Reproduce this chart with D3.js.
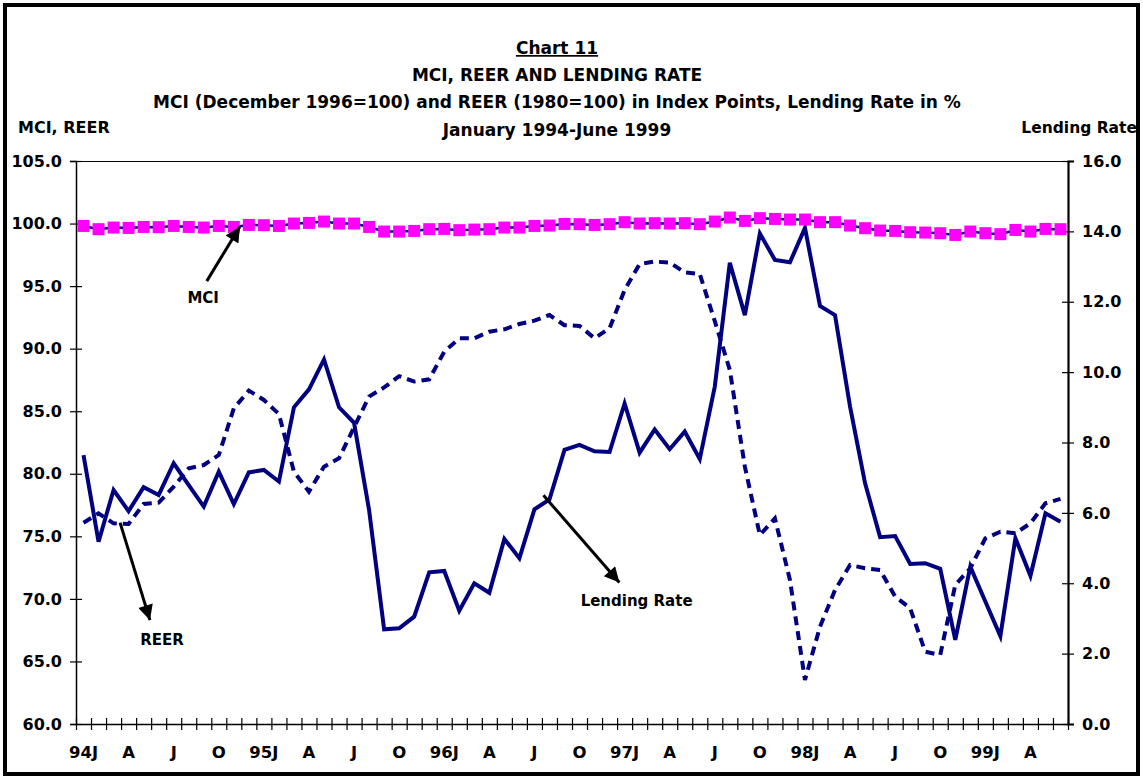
<!DOCTYPE html>
<html>
<head>
<meta charset="utf-8">
<script src="https://cdn.jsdelivr.net/npm/d3@7"></script>
<style>
  html, body { margin: 0; padding: 0; background: #fff; }
  svg { display: block; }
  text { font-family: "DejaVu Sans", sans-serif; font-weight: bold; fill: #000; }
</style>
</head>
<body>
<svg id="chart" width="1143" height="779"></svg>
<script>
// ---------------- data ----------------
const months = d3.range(66); // Jan 1994 .. Jun 1999
const xTickLabels = ["94J","A","J","O","95J","A","J","O","96J","A","J","O",
                     "97J","A","J","O","98J","A","J","O","99J","A"];
const leftTicks = [60,65,70,75,80,85,90,95,100,105];
const rightTicks = [0,2,4,6,8,10,12,14,16];

const mci = [99.81,99.55,99.68,99.65,99.73,99.71,99.81,99.73,99.68,99.81,99.73,99.89,
             99.87,99.81,100.0,100.05,100.16,100.0,100.0,99.73,99.36,99.36,99.41,99.55,
             99.57,99.47,99.52,99.55,99.68,99.68,99.81,99.84,99.97,99.95,99.89,99.95,
             100.11,100.0,100.03,100.0,100.03,99.95,100.16,100.48,100.21,100.43,100.37,100.32,
             100.32,100.11,100.11,99.84,99.63,99.44,99.41,99.31,99.28,99.23,99.09,99.36,
             99.23,99.15,99.49,99.36,99.57,99.55];

const reer = [76.09,76.84,76.04,75.99,77.59,77.69,78.97,80.44,80.70,81.50,85.23,86.65,
              85.90,84.78,80.17,78.57,80.57,81.24,83.72,86.17,86.90,87.80,87.37,87.55,
              89.76,90.83,90.83,91.36,91.55,91.97,92.24,92.69,91.87,91.82,90.83,91.63,
              94.69,96.77,96.96,96.88,96.10,95.97,92.20,88.30,80.57,75.10,76.44,71.51,
              63.52,67.78,70.71,72.71,72.45,72.31,70.18,69.25,65.78,65.52,71.11,72.45,
              74.84,75.37,75.24,76.04,77.64,78.00];

const lending = [7.64,5.18,6.65,6.05,6.73,6.51,7.41,6.79,6.18,7.17,6.25,7.15,
                 7.22,6.89,9.00,9.51,10.36,9.00,8.56,6.08,2.69,2.72,3.05,4.31,
                 4.35,3.22,4.00,3.73,5.26,4.71,6.10,6.38,7.79,7.93,7.75,7.73,
                 9.11,7.71,8.37,7.81,8.31,7.53,9.59,13.11,11.62,13.94,13.19,13.12,
                 14.10,11.88,11.62,9.02,6.84,5.31,5.34,4.55,4.57,4.41,2.39,4.47,
                 3.48,2.50,5.28,4.21,5.99,5.75];

// annotations positioned in data terms (month index, value on given axis)
const annotations = [
  {label:"MCI",          axis:"L", tail:[8.2, 95.4],  tip:[10.4, 99.75], text:[7.96, 94.1]},
  {label:"REER",         axis:"L", tail:[2.43, 76.1], tip:[4.42, 68.3],  text:[5.22, 66.8]},
  {label:"Lending Rate", axis:"R", tail:[30.6, 6.5],  tip:[35.65, 4.02], text:[36.8, 3.52]}
];

const titleLines = ["Chart 11",
                    "MCI, REER AND LENDING RATE",
                    "MCI (December 1996=100) and REER (1980=100) in Index Points, Lending Rate in %",
                    "January 1994-June 1999"];

// ---------------- layout ----------------
const W = 1143, H = 779;
const plot = {left: 76, right: 1068, top: 161, bottom: 724};
const svg = d3.select("#chart");
const navy = "#000080";

const xB = d3.scaleLinear().domain([0, months.length]).range([plot.left, plot.right]);
const xC = i => xB(i + 0.5);
const yL = d3.scaleLinear().domain([60, 105]).range([plot.bottom, plot.top]);
const yR = d3.scaleLinear().domain([0, 16]).range([plot.bottom, plot.top]);

// outer frame
svg.append("rect").attr("x", 5).attr("y", 5).attr("width", W - 10).attr("height", H - 10)
   .attr("fill", "none").attr("stroke", "#000").attr("stroke-width", 4);

// titles
const tg = svg.append("g").attr("text-anchor", "middle");
const tY = [54, 81, 108, 136];
titleLines.forEach((t, k) => {
  tg.append("text").attr("x", 557).attr("y", tY[k]).attr("font-size", 17)
    .attr("text-decoration", k === 0 ? "underline" : null).text(t);
});
svg.append("text").attr("x", 18).attr("y", 133).attr("font-size", 16).text("MCI, REER");
svg.append("text").attr("x", 1137).attr("y", 133).attr("font-size", 15.5)
   .attr("text-anchor", "end").text("Lending Rate");

// top border of plot
svg.append("line").attr("x1", plot.left).attr("x2", plot.right)
   .attr("y1", plot.top + 0.5).attr("y2", plot.top + 0.5)
   .attr("stroke", "#000").attr("stroke-width", 1);

function styleAxis(g, w) {
  g.select(".domain").attr("stroke", "#000").attr("stroke-width", w);
  g.selectAll(".tick line").attr("stroke", "#000").attr("stroke-width", 1.2);
  g.selectAll("text").attr("font-size", 16).attr("font-family", null).attr("fill", "#000");
}

// left axis (outer ticks + labels) and inner ticks
const gL = svg.append("g").attr("transform", `translate(${plot.left},0)`)
  .call(d3.axisLeft(yL).tickValues(leftTicks).tickFormat(d => d.toFixed(1)).tickSize(6).tickPadding(8));
styleAxis(gL, 1.5);
svg.append("g").attr("transform", `translate(${plot.left},0)`)
  .call(d3.axisLeft(yL).tickValues(leftTicks).tickFormat("").tickSize(-6).tickSizeOuter(0))
  .call(g => { g.select(".domain").remove(); g.selectAll(".tick line").attr("stroke","#000").attr("stroke-width",1.2); });

// right axis
const gR = svg.append("g").attr("transform", `translate(${plot.right},0)`)
  .call(d3.axisRight(yR).tickValues(rightTicks).tickFormat(d => d.toFixed(1)).tickSize(6).tickPadding(8));
styleAxis(gR, 2.2);
svg.append("g").attr("transform", `translate(${plot.right},0)`)
  .call(d3.axisRight(yR).tickValues(rightTicks).tickFormat("").tickSize(-6).tickSizeOuter(0))
  .call(g => { g.select(".domain").remove(); g.selectAll(".tick line").attr("stroke","#000").attr("stroke-width",1.2); });

// bottom axis: ticks at month boundaries, crossing
const gB = svg.append("g").attr("transform", `translate(0,${plot.bottom})`)
  .call(d3.axisBottom(xB).tickValues(d3.range(months.length + 1)).tickFormat("").tickSize(6).tickSizeOuter(0));
styleAxis(gB, 1.5);
svg.append("g").attr("transform", `translate(0,${plot.bottom})`)
  .call(d3.axisBottom(xB).tickValues(d3.range(months.length + 1)).tickFormat("").tickSize(-6).tickSizeOuter(0))
  .call(g => { g.select(".domain").remove(); g.selectAll(".tick line").attr("stroke","#000").attr("stroke-width",1.2); });

// month labels every quarter
svg.append("g").attr("text-anchor", "middle")
  .selectAll("text").data(xTickLabels).join("text")
  .attr("x", (d, k) => xC(k * 3)).attr("y", 758).attr("font-size", 16.5).text(d => d);

// lines
const lineL = d3.line().x((d, i) => xC(i)).y(d => yL(d));
const lineR = d3.line().x((d, i) => xC(i)).y(d => yR(d));

svg.append("path").datum(reer).attr("d", lineL)
   .attr("fill", "none").attr("stroke", navy).attr("stroke-width", 4)
   .attr("stroke-dasharray", "9,6");

svg.append("path").datum(lending).attr("d", lineR)
   .attr("fill", "none").attr("stroke", navy).attr("stroke-width", 4)
   .attr("stroke-linejoin", "miter").attr("stroke-miterlimit", 4);

svg.append("path").datum(mci).attr("d", lineL)
   .attr("fill", "none").attr("stroke", navy).attr("stroke-width", 2.5);
svg.append("g").selectAll("rect").data(mci).join("rect")
   .attr("x", (d, i) => xC(i) - 6).attr("y", d => yL(d) - 6)
   .attr("width", 12).attr("height", 12).attr("fill", "#ff00ff");

// annotation arrows
const defs = svg.append("defs");
defs.append("marker").attr("id", "ah").attr("viewBox", "0 0 10 10")
  .attr("refX", 10).attr("refY", 5).attr("markerUnits", "userSpaceOnUse")
  .attr("markerWidth", 17).attr("markerHeight", 15).attr("orient", "auto")
  .append("path").attr("d", "M0,0 L10,5 L0,10 Z").attr("fill", "#000");

const ag = svg.append("g");
annotations.forEach(a => {
  const ys = a.axis === "L" ? yL : yR;
  ag.append("line")
    .attr("x1", xC(a.tail[0])).attr("y1", ys(a.tail[1]))
    .attr("x2", xC(a.tip[0])).attr("y2", ys(a.tip[1]))
    .attr("stroke", "#000").attr("stroke-width", 3).attr("marker-end", "url(#ah)");
  ag.append("text").attr("x", xC(a.text[0])).attr("y", ys(a.text[1]) + 6)
    .attr("text-anchor", "middle").attr("font-size", 15).text(a.label);
});
</script>
</body>
</html>
